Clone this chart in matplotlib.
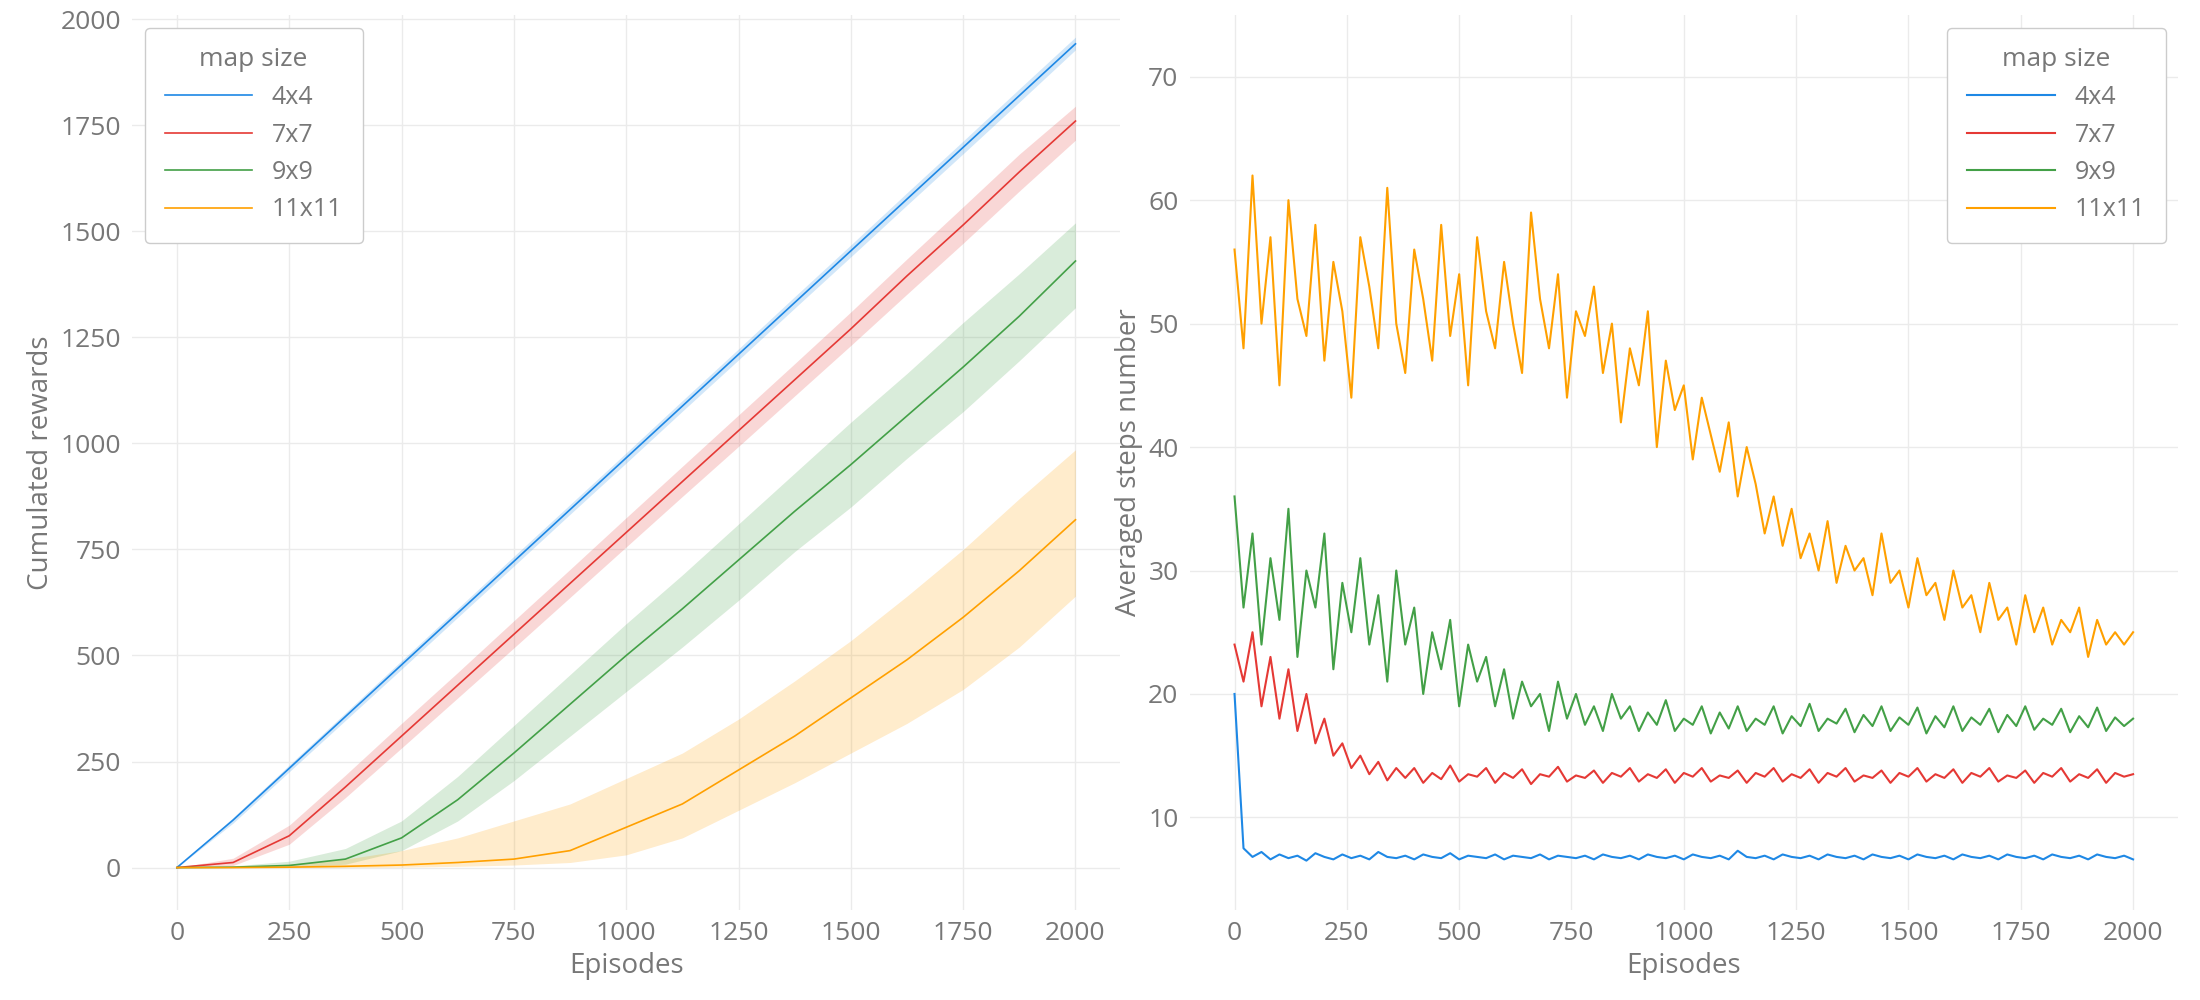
import numpy as np
import matplotlib
matplotlib.use("Agg")
import matplotlib.pyplot as plt

sizes = ["4x4", "7x7", "9x9", "11x11"]
colors = ["#1e88e5", "#e53935", "#43a047", "#ffa000"]

# Left panel: cumulated rewards (mean, lower, upper) at these episodes
ep_cum = [0, 125, 250, 375, 500, 625, 750, 875, 1000, 1125, 1250, 1375, 1500, 1625, 1750, 1875, 2000]
cum_mean = {
    "4x4": [0, 112, 234, 356, 478, 600, 722, 844, 966, 1088, 1210, 1332, 1454, 1576, 1698, 1820, 1942],
    "7x7": [0, 12, 75, 190, 310, 430, 550, 670, 790, 910, 1030, 1150, 1270, 1395, 1515, 1640, 1760],
    "9x9": [0, 1, 5, 20, 70, 160, 270, 385, 500, 610, 725, 840, 950, 1065, 1180, 1300, 1430],
    "11x11": [0, 0, 1, 3, 6, 12, 20, 40, 95, 150, 230, 310, 400, 490, 590, 700, 820],
}
cum_low = {
    "4x4": [0, 105, 226, 347, 468, 590, 711, 833, 954, 1076, 1197, 1319, 1440, 1562, 1683, 1805, 1928],
    "7x7": [0, 5, 55, 165, 282, 400, 518, 637, 756, 875, 993, 1112, 1231, 1352, 1472, 1595, 1715],
    "9x9": [0, 0, 1, 8, 40, 110, 205, 310, 415, 520, 630, 745, 850, 965, 1075, 1195, 1320],
    "11x11": [0, 0, 0, 0, 1, 3, 6, 12, 30, 70, 135, 200, 270, 340, 420, 520, 640],
}
cum_high = {
    "4x4": [0, 118, 242, 365, 488, 611, 734, 856, 978, 1101, 1223, 1346, 1468, 1591, 1713, 1836, 1958],
    "7x7": [0, 22, 100, 218, 340, 460, 582, 703, 825, 946, 1067, 1188, 1310, 1435, 1558, 1682, 1795],
    "9x9": [0, 4, 15, 45, 110, 215, 335, 455, 575, 690, 810, 930, 1050, 1165, 1285, 1400, 1520],
    "11x11": [0, 2, 8, 20, 40, 70, 110, 150, 210, 270, 350, 440, 535, 640, 750, 870, 985],
}

# Right panel: averaged steps number, every 20 episodes (0..2000)
ep_steps = list(range(0, 2001, 20))
steps = {
    "4x4": [20, 7.5, 6.8, 7.2, 6.6, 7.0, 6.7, 6.9, 6.5, 7.1, 6.8, 6.6, 7.0, 6.7, 6.9, 6.6, 7.2, 6.8, 6.7, 6.9,
            6.6, 7.0, 6.8, 6.7, 7.1, 6.6, 6.9, 6.8, 6.7, 7.0, 6.6, 6.9, 6.8, 6.7, 7.0, 6.6, 6.9, 6.8, 6.7, 6.9,
            6.6, 7.0, 6.8, 6.7, 6.9, 6.6, 7.0, 6.8, 6.7, 6.9, 6.6, 7.0, 6.8, 6.7, 6.9, 6.6, 7.3, 6.8, 6.7, 6.9,
            6.6, 7.0, 6.8, 6.7, 6.9, 6.6, 7.0, 6.8, 6.7, 6.9, 6.6, 7.0, 6.8, 6.7, 6.9, 6.6, 7.0, 6.8, 6.7, 6.9,
            6.6, 7.0, 6.8, 6.7, 6.9, 6.6, 7.0, 6.8, 6.7, 6.9, 6.6, 7.0, 6.8, 6.7, 6.9, 6.6, 7.0, 6.8, 6.7, 6.9, 6.6],
    "7x7": [24, 21, 25, 19, 23, 18, 22, 17, 20, 16, 18, 15, 16, 14, 15, 13.5, 14.5, 13, 14, 13.2,
            14, 12.8, 13.6, 13.1, 14.2, 12.9, 13.5, 13.3, 14.0, 12.8, 13.6, 13.2, 13.9, 12.7, 13.5, 13.3, 14.1, 12.9, 13.4, 13.2,
            13.8, 12.8, 13.6, 13.3, 14.0, 12.9, 13.5, 13.2, 13.9, 12.8, 13.6, 13.3, 14.0, 12.9, 13.4, 13.2, 13.8, 12.8, 13.6, 13.3,
            14.0, 12.9, 13.5, 13.2, 13.9, 12.8, 13.6, 13.3, 14.0, 12.9, 13.4, 13.2, 13.8, 12.8, 13.6, 13.3, 14.0, 12.9, 13.5, 13.2,
            13.9, 12.8, 13.6, 13.3, 14.0, 12.9, 13.4, 13.2, 13.8, 12.8, 13.6, 13.3, 14.0, 12.9, 13.5, 13.2, 13.9, 12.8, 13.6, 13.3, 13.5],
    "9x9": [36, 27, 33, 24, 31, 26, 35, 23, 30, 27, 33, 22, 29, 25, 31, 24, 28, 21, 30, 24,
            27, 20, 25, 22, 26, 19, 24, 21, 23, 19, 22, 18, 21, 19, 20, 17, 21, 18, 20, 17.5,
            19, 17, 20, 18, 19, 17, 18.5, 17.5, 19.5, 17, 18, 17.5, 19, 16.8, 18.5, 17.2, 19, 17, 18, 17.5,
            19, 16.8, 18.2, 17.4, 19.2, 17, 18, 17.6, 18.8, 16.9, 18.3, 17.4, 19, 17, 18.1, 17.5, 18.9, 16.8, 18.2, 17.3,
            19, 17, 18.1, 17.5, 18.8, 16.9, 18.3, 17.4, 19, 17.1, 18, 17.5, 18.8, 16.9, 18.2, 17.3, 18.9, 17, 18.1, 17.4, 18],
    "11x11": [56, 48, 62, 50, 57, 45, 60, 52, 49, 58, 47, 55, 51, 44, 57, 53, 48, 61, 50, 46,
              56, 52, 47, 58, 49, 54, 45, 57, 51, 48, 55, 50, 46, 59, 52, 48, 54, 44, 51, 49,
              53, 46, 50, 42, 48, 45, 51, 40, 47, 43, 45, 39, 44, 41, 38, 42, 36, 40, 37, 33,
              36, 32, 35, 31, 33, 30, 34, 29, 32, 30, 31, 28, 33, 29, 30, 27, 31, 28, 29, 26,
              30, 27, 28, 25, 29, 26, 27, 24, 28, 25, 27, 24, 26, 25, 27, 23, 26, 24, 25, 24, 25],
}

plt.rcParams["font.family"] = ["Open Sans", "DejaVu Sans"]
tc = "#777777"
fig, axes = plt.subplots(1, 2, figsize=(22, 10), dpi=100)
fig.subplots_adjust(left=0.06, right=0.99, top=0.985, bottom=0.09, wspace=0.07)

def style(ax):
    for s in ax.spines.values():
        s.set_visible(False)
    ax.grid(True, color="#ebebeb", linewidth=1)
    ax.set_axisbelow(True)
    ax.tick_params(colors=tc, labelsize=19, length=0, pad=8)
    ax.set_xticks(range(0, 2001, 250))

ax = axes[0]
for s, c in zip(sizes, colors):
    ax.fill_between(ep_cum, cum_low[s], cum_high[s], color=c, alpha=0.2, linewidth=0)
    ax.plot(ep_cum, cum_mean[s], color=c, linewidth=1.2, label=s)
style(ax)
ax.set_xlim(-100, 2100)
ax.set_ylim(-100, 2010)
ax.set_yticks(range(0, 2001, 250))
ax.set_xlabel("Episodes", fontsize=20, color=tc)
ax.set_ylabel("Cumulated rewards", fontsize=20, color=tc)
leg = ax.legend(title="map size", loc="upper left", fontsize=18, title_fontsize=19,
                labelcolor=tc, handlelength=3.5, borderpad=0.8, framealpha=1, edgecolor="#cccccc")
leg.get_title().set_color(tc)

ax = axes[1]
for s, c in zip(sizes, colors):
    ax.plot(ep_steps, steps[s], color=c, linewidth=1.5, label=s)
style(ax)
ax.set_xlim(-100, 2100)
ax.set_ylim(2.5, 75)
ax.set_yticks(range(10, 71, 10))
ax.set_xlabel("Episodes", fontsize=20, color=tc)
ax.set_ylabel("Averaged steps number", fontsize=20, color=tc)
leg = ax.legend(title="map size", loc="upper right", fontsize=18, title_fontsize=19,
                labelcolor=tc, handlelength=3.5, borderpad=0.8, framealpha=1, edgecolor="#cccccc")
leg.get_title().set_color(tc)

fig.savefig("out.png")
